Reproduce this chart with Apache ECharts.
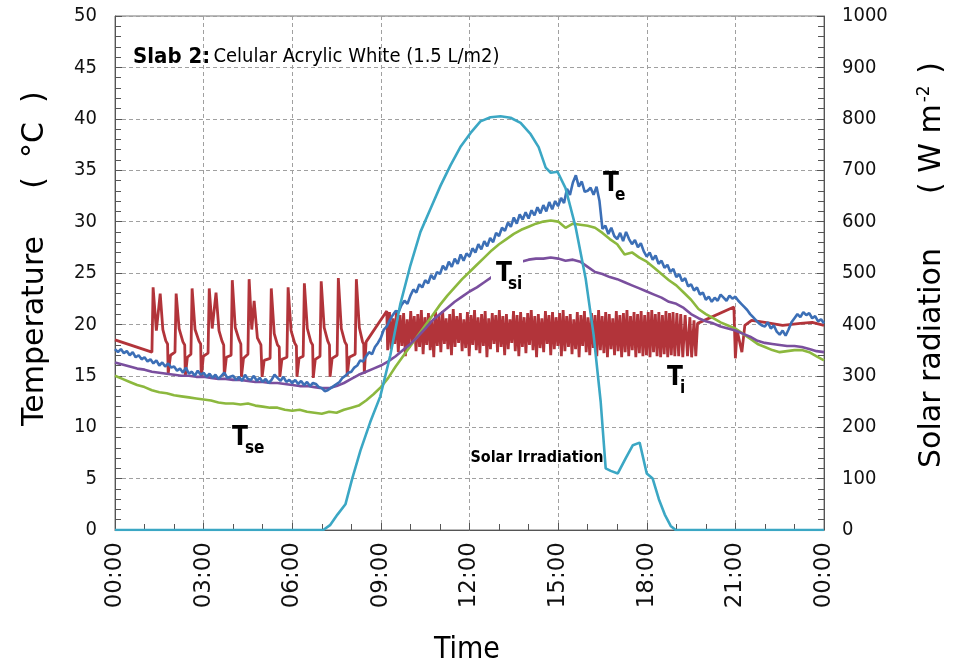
<!DOCTYPE html>
<html>
<head>
<meta charset="utf-8">
<script src="https://cdn.jsdelivr.net/npm/echarts@6/dist/echarts.min.js"></script>
<style>
html, body { margin: 0; padding: 0; background: #fff; }
#chart { width: 955px; height: 668px; }
</style>
</head>
<body>
<div id="chart"></div>
<script>
var dom = document.getElementById("chart");
var myChart = echarts.init(dom);

var narrow = '"DejaVu Sans Condensed", "Liberation Sans Narrow", "DejaVu Sans", sans-serif';
var wide = '"DejaVu Sans", Verdana, sans-serif';

// hours of day on the x axis (3 h ticks)
var hourTicks = [0, 3, 6, 9, 12, 15, 18, 21, 24];

// Te (blue), logged every 0.1 h from 00:00 to 24:00
var blueStep = 0.1;
var blueTe = [
  17.6, 17.3, 17.6, 17.2, 17.4, 17.0, 17.3, 16.8, 17.0, 16.6,
  16.8, 16.4, 16.6, 16.2, 16.5, 16.0, 16.3, 15.9, 16.2, 15.8,
  15.9, 15.5, 15.7, 15.3, 15.8, 15.2, 15.4, 15.0, 15.5, 15.1,
  15.3, 14.9, 15.2, 14.8, 15.1, 14.7, 15.0, 15.3, 14.8, 14.9,
  15.0, 14.6, 14.9, 14.5, 15.1, 14.7, 14.6, 15.0, 14.5, 14.8,
  14.4, 14.7, 14.3, 14.6, 15.1, 14.8, 14.5, 14.9, 14.4, 14.6,
  14.3, 14.6, 14.2, 14.5, 14.1, 14.4, 14.0, 14.3, 14.2, 13.9,
  13.8, 13.5, 13.6, 13.8, 14.0, 14.2, 14.4, 14.8, 15.0, 15.3,
  15.4, 15.8, 16.0, 16.5, 16.4, 16.9, 17.3, 17.1, 17.8, 18.2,
  18.7, 19.5, 19.8, 20.4, 20.9, 21.3, 21.2, 21.9, 22.3, 22.0,
  22.8, 23.4, 23.1, 23.9, 23.6, 24.3, 24.0, 24.8, 24.4, 25.1,
  24.9, 25.7, 25.3, 26.1, 25.6, 26.4, 25.9, 26.8, 26.2, 26.9,
  26.6, 27.4, 27.0, 27.8, 27.3, 28.1, 27.6, 28.4, 28.0, 28.9,
  28.6, 29.4, 29.1, 29.9, 29.5, 30.4, 29.8, 30.7, 30.2, 30.9,
  30.3, 31.1, 30.6, 31.4, 30.8, 31.6, 31.0, 31.9, 31.2, 32.0,
  31.5, 32.3, 31.8, 33.2, 32.6, 33.8, 34.5, 33.4, 33.9, 32.9,
  33.0, 33.3, 32.6, 33.4, 32.0, 29.3, 29.6, 28.8, 29.4, 28.6,
  28.3, 28.9, 28.1, 29.0, 28.3, 27.8, 28.2, 27.5, 27.9, 27.1,
  26.6, 27.0, 26.3, 26.7, 25.9, 26.2, 25.5, 25.8, 25.1, 25.4,
  24.6, 24.9, 24.2, 24.5, 23.7, 23.9, 23.3, 23.6, 22.9, 23.1,
  22.4, 22.7, 22.2, 22.6, 22.3, 22.9, 22.6, 22.3, 22.8, 22.5,
  22.7, 22.3, 22.0, 21.7, 21.4, 21.0, 20.7, 20.4, 20.1, 19.9,
  19.8, 20.2, 19.6, 19.9, 19.3, 19.0, 19.4, 18.9, 19.5, 20.2,
  20.6, 21.0, 20.7, 21.2, 20.9, 21.1, 20.6, 20.8, 20.3, 20.5,
  20.1
];

// Tse (green) and Tsi (purple), logged every 0.25 h
var slowStep = 0.25;
var greenTse = [
  15.0, 14.7, 14.4, 14.1, 13.9, 13.6, 13.4, 13.3,
  13.1, 13.0, 12.9, 12.8, 12.7, 12.6, 12.4, 12.3,
  12.3, 12.2, 12.3, 12.1, 12.0, 11.9, 11.9, 11.7,
  11.6, 11.7, 11.5, 11.4, 11.3, 11.5, 11.4, 11.7,
  11.9, 12.1, 12.6, 13.2, 13.9, 14.8, 15.9, 16.9,
  17.9, 18.9, 19.9, 20.9, 21.9, 22.8, 23.6, 24.4,
  25.1, 25.8, 26.5, 27.2, 27.8, 28.3, 28.8, 29.2,
  29.5, 29.8, 30.0, 30.1, 30.0, 29.4, 29.8, 29.7,
  29.6, 29.4, 28.9, 28.3, 27.8, 26.8, 27.0, 26.5,
  26.1, 25.5, 24.9, 24.3, 23.8, 23.1, 22.4, 21.5,
  21.0, 20.6, 20.2, 19.9, 19.6, 19.1, 18.6, 18.1,
  17.8, 17.5, 17.3, 17.4, 17.5, 17.5, 17.3, 16.9,
  16.5
];
var purpleTsi = [
  16.3, 16.1, 15.9, 15.7, 15.6, 15.4, 15.3, 15.2,
  15.1, 15.0, 15.0, 14.9, 14.9, 14.8, 14.7, 14.7,
  14.6, 14.6, 14.5, 14.4, 14.4, 14.3, 14.3, 14.2,
  14.1, 14.0, 14.0, 13.9, 13.8, 13.8, 14.0, 14.3,
  14.7, 15.1, 15.4, 15.7, 16.0, 16.4, 16.9, 17.5,
  18.1, 18.8, 19.6, 20.4, 21.0, 21.6, 22.2, 22.7,
  23.2, 23.6, 24.1, 24.6, 25.1, 25.5, 25.9, 26.1,
  26.3, 26.4, 26.4, 26.5, 26.4, 26.2, 26.3, 26.1,
  25.6, 25.1, 24.9, 24.6, 24.4, 24.1, 23.8, 23.5,
  23.2, 22.9, 22.6, 22.2, 22.0, 21.6, 21.0, 20.6,
  20.3, 20.1, 19.8, 19.6, 19.4, 19.1, 18.8, 18.4,
  18.2, 18.1, 18.0, 17.9, 17.9, 17.8, 17.6, 17.4,
  17.3
];

// Ti (red): night cycles as [hour, degC]
var redNight = [
  [0, 18.5], [1.25, 17.3],
  [1.29, 23.6], [1.40, 19.4], [1.53, 23.0], [1.62, 19.5], [1.72, 18.4], [1.78, 18.1], [1.80, 15.2], [1.88, 17.0], [2.03, 17.3],
  [2.07, 23.0], [2.17, 19.6], [2.30, 18.3], [2.36, 18.0], [2.38, 15.0], [2.45, 16.8], [2.57, 17.1],
  [2.61, 23.5], [2.71, 19.5], [2.84, 18.4], [2.90, 18.1], [2.92, 14.8], [2.99, 16.9], [3.15, 17.2],
  [3.19, 23.5], [3.29, 19.6], [3.42, 23.1], [3.52, 19.4], [3.62, 18.4], [3.68, 18.0], [3.70, 15.0], [3.77, 16.8], [3.93, 17.0],
  [3.97, 24.3], [4.07, 19.7], [4.20, 18.5], [4.26, 18.1], [4.28, 14.9], [4.35, 16.7], [4.50, 17.1],
  [4.54, 24.4], [4.63, 19.5], [4.71, 22.3], [4.82, 18.7], [4.94, 18.0], [4.98, 14.9], [5.05, 16.5], [5.25, 16.7],
  [5.29, 23.5], [5.39, 19.1], [5.50, 18.0], [5.56, 17.8], [5.58, 14.9], [5.65, 16.6], [5.82, 16.8],
  [5.86, 23.6], [5.96, 19.4], [6.08, 18.2], [6.14, 17.9], [6.16, 14.9], [6.23, 16.7], [6.37, 16.9],
  [6.41, 24.0], [6.51, 19.6], [6.63, 18.3], [6.69, 18.0], [6.71, 14.8], [6.78, 16.6], [6.94, 16.9],
  [6.98, 24.2], [7.08, 19.7], [7.20, 18.4], [7.26, 18.0], [7.28, 14.9], [7.35, 16.7], [7.52, 17.0],
  [7.56, 24.5], [7.66, 19.6], [7.78, 18.3], [7.84, 18.0], [7.86, 15.0], [7.93, 16.8], [8.13, 17.1],
  [8.17, 24.4], [8.27, 19.7], [8.38, 18.3], [8.42, 18.1], [8.44, 15.2], [8.50, 18.3], [9.20, 21.3],
  [9.23, 17.5]
];
// Ti (red): daytime fast cycling, peak and trough of each 0.12 h cycle
var redCycleStart = 9.29;
var redCycle = 0.12;
var redPeaks = [
  21.2, 20.6, 21.4, 20.9, 21.1, 20.5, 21.3, 20.8, 21.0, 21.4,
  20.7, 21.1, 20.4, 21.2, 20.9, 21.3, 20.6, 21.0, 21.5, 20.8,
  21.1, 20.5, 21.2, 20.9, 21.4, 20.7, 21.0, 21.3, 20.6, 21.1,
  20.9, 21.4, 20.8, 21.0, 20.5, 21.3, 20.9, 21.2, 20.7, 21.1,
  21.4, 20.8, 21.0, 20.6, 21.3, 20.9, 21.2, 20.7, 21.1, 21.4,
  20.8, 21.0, 20.5, 21.2, 20.9, 21.3, 20.7, 21.1, 20.9, 21.4,
  20.8, 21.2, 21.0, 20.6, 21.3, 20.9, 21.1, 21.4, 20.8, 21.2,
  21.0, 21.3, 20.9, 21.2, 21.4, 21.0, 21.2, 20.9, 21.3, 21.1,
  21.2
];
var redTroughs = [
  17.6, 18.1, 17.3, 17.9, 16.9, 17.7, 18.2, 17.4, 17.8, 17.1,
  18.0, 17.5, 16.8, 17.9, 17.3, 18.1, 17.6, 17.0, 17.8, 18.2,
  17.4, 17.7, 16.9, 18.0, 17.5, 17.2, 17.9, 16.8, 17.6, 18.1,
  17.3, 17.8, 17.0, 17.6, 18.2, 17.4, 16.9, 17.8, 17.2, 18.0,
  17.5, 16.8, 17.7, 17.3, 18.1, 17.0, 17.6, 17.9, 16.9, 17.4,
  17.8, 17.1, 17.6, 16.8, 17.9, 17.3, 17.0, 17.7, 16.9, 17.5,
  17.2, 16.8, 17.6, 17.0, 17.4, 16.8, 17.3, 16.9, 17.5, 16.8,
  17.2, 16.9, 17.0, 16.8, 17.3, 16.9, 16.8, 17.1, 16.8, 17.0,
  16.9
];
// Ti (red): evening as [hour, degC]
var redEvening = [
  [19.02, 21.1], [19.08, 16.9], [19.15, 21.0], [19.22, 16.8], [19.30, 20.9], [19.38, 16.9],
  [19.46, 20.7], [19.52, 16.8], [19.60, 20.4], [19.66, 16.9], [19.72, 20.1],
  [20.95, 21.7], [21.00, 16.7], [21.06, 19.4], [21.22, 17.3], [21.32, 19.9], [21.55, 20.4],
  [22.0, 20.2], [22.6, 19.9], [23.2, 20.1], [23.6, 20.2], [24.0, 19.9]
];

// Solar irradiation (W m-2) as [hour, value]
var solar = [
  [0, 0], [7.05, 0], [7.29, 10], [7.53, 30], [7.80, 50], [8.03, 100], [8.31, 155], [8.64, 210],
  [8.98, 260], [9.32, 340], [9.66, 440], [10.0, 515], [10.34, 580], [10.68, 625], [11.02, 670],
  [11.36, 710], [11.69, 745], [12.03, 772], [12.37, 795], [12.71, 803], [13.05, 805], [13.39, 802],
  [13.73, 792], [14.07, 770], [14.34, 745], [14.58, 705], [14.75, 695], [14.98, 697], [15.25, 665],
  [15.59, 590], [15.93, 490], [16.20, 380], [16.44, 250], [16.61, 120], [16.78, 115], [17.02, 110],
  [17.29, 140], [17.53, 165], [17.76, 170], [18.00, 110], [18.20, 100], [18.41, 60], [18.61, 30],
  [18.81, 8], [18.98, 0], [24, 0]
];

function onGrid(vals, step) {
  return vals.map(function (v, i) { return [+(i * step).toFixed(2), v]; });
}

var redData = redNight.slice();
redPeaks.forEach(function (p, i) {
  var t = redCycleStart + i * redCycle;
  redData.push([+t.toFixed(3), p]);
  redData.push([+(t + redCycle / 2).toFixed(3), redTroughs[i]]);
});
redData = redData.concat(redEvening);

function hourLabel(v) {
  var h = v % 24;
  return (h < 10 ? '0' : '') + h + ':00';
}

var lineBase = { type: 'line', showSymbol: false, symbol: 'none', animation: false };

option = {
  animation: false,
  backgroundColor: '#ffffff',
  grid: { left: 115, right: 131, top: 16, bottom: 138, show: true, borderColor: '#777', borderWidth: 1 },
  xAxis: {
    type: 'value', min: 0, max: 24, interval: 3,
    axisLine: { onZero: false, lineStyle: { color: '#555', width: 1 } },
    axisTick: { inside: true, length: 7, lineStyle: { color: '#555' } },
    minorTick: { show: true, splitNumber: 3, length: 6, lineStyle: { color: '#555' } },
    splitLine: { show: true, lineStyle: { color: '#a0a0a0', type: [4, 3], width: 1 } },
    axisLabel: {
      rotate: 90, margin: 12, fontSize: 23, color: '#111', fontFamily: wide,
      formatter: hourLabel, showMaxLabel: true, showMinLabel: true
    }
  },
  yAxis: [{
    type: 'value', min: 0, max: 50, interval: 5, position: 'left',
    axisLine: { show: true, lineStyle: { color: '#555' } },
    axisTick: { show: true, inside: true, length: 7, lineStyle: { color: '#555' } },
    minorTick: { show: true, splitNumber: 5, length: 6, lineStyle: { color: '#555' } },
    splitLine: { show: true, lineStyle: { color: '#a0a0a0', type: [4, 3], width: 1 } },
    axisLabel: { margin: 18, fontSize: 20, color: '#111', fontFamily: narrow }
  }, {
    type: 'value', min: 0, max: 1000, interval: 100, position: 'right',
    axisLine: { show: true, lineStyle: { color: '#555' } },
    axisTick: { show: true, inside: true, length: 7, lineStyle: { color: '#555' } },
    minorTick: { show: true, splitNumber: 5, length: 6, lineStyle: { color: '#555' } },
    splitLine: { show: false },
    axisLabel: { margin: 18, fontSize: 20, color: '#111', fontFamily: narrow, formatter: function (v) { return String(v); } }
  }],
  series: [
    Object.assign({}, lineBase, { name: 'Ti', data: redData, lineStyle: { color: '#b2343a', width: 2.8 }, itemStyle: { color: '#b2343a' }, z: 2 }),
    Object.assign({}, lineBase, { name: 'Tse', data: onGrid(greenTse, slowStep), lineStyle: { color: '#8cb83e', width: 2.6 }, itemStyle: { color: '#8cb83e' }, z: 3 }),
    Object.assign({}, lineBase, { name: 'Tsi', data: onGrid(purpleTsi, slowStep), lineStyle: { color: '#7a4f9e', width: 2.6 }, itemStyle: { color: '#7a4f9e' }, z: 4 }),
    Object.assign({}, lineBase, { name: 'Te', data: onGrid(blueTe, blueStep), lineStyle: { color: '#3c6fb6', width: 2.6 }, itemStyle: { color: '#3c6fb6' }, z: 5 }),
    Object.assign({}, lineBase, { name: 'Solar Irradiation', yAxisIndex: 1, data: solar, lineStyle: { color: '#3ba7c4', width: 2.6 }, itemStyle: { color: '#3ba7c4' }, z: 6 })
  ],
  graphic: [
    { type: 'text', x: 133, y: 57, z: 100, style: {
      text: '{b|Slab 2:} {n|Celular Acrylic White (1.5 L/m2)}', verticalAlign: 'middle',
      rich: {
        b: { fontSize: 22, fontWeight: 'bold', fontFamily: narrow, fill: '#000' },
        n: { fontSize: 20, fontFamily: narrow, fill: '#000' }
      }
    } },
    // series labels
    { type: 'text', x: 603, y: 184, z: 100, style: { text: 'T', fontSize: 26, fontWeight: 'bold', fontFamily: narrow, fill: '#000', verticalAlign: 'middle' } },
    { type: 'text', x: 615, y: 196, z: 100, style: { text: 'e', fontSize: 17, fontWeight: 'bold', fontFamily: narrow, fill: '#000', verticalAlign: 'middle' } },
    { type: 'rect', z: 99, shape: { x: 491, y: 257, width: 32, height: 35 }, style: { fill: '#fff' } },
    { type: 'text', x: 496, y: 274, z: 100, style: { text: 'T', fontSize: 26, fontWeight: 'bold', fontFamily: narrow, fill: '#000', verticalAlign: 'middle' } },
    { type: 'text', x: 508, y: 285, z: 100, style: { text: 'si', fontSize: 17, fontWeight: 'bold', fontFamily: narrow, fill: '#000', verticalAlign: 'middle' } },
    { type: 'text', x: 667, y: 378, z: 100, style: { text: 'T', fontSize: 26, fontWeight: 'bold', fontFamily: narrow, fill: '#000', verticalAlign: 'middle' } },
    { type: 'text', x: 680, y: 389, z: 100, style: { text: 'i', fontSize: 17, fontWeight: 'bold', fontFamily: narrow, fill: '#000', verticalAlign: 'middle' } },
    { type: 'text', x: 232, y: 438, z: 100, style: { text: 'T', fontSize: 26, fontWeight: 'bold', fontFamily: narrow, fill: '#000', verticalAlign: 'middle' } },
    { type: 'text', x: 245, y: 449, z: 100, style: { text: 'se', fontSize: 17, fontWeight: 'bold', fontFamily: narrow, fill: '#000', verticalAlign: 'middle' } },
    { type: 'text', x: 537, y: 458, z: 100, style: { text: 'Solar Irradiation', fontSize: 16, fontWeight: 'bold', fontFamily: narrow, fill: '#000', align: 'center', verticalAlign: 'middle' } },
    // axis titles
    { type: 'text', x: 35, y: 331, rotation: Math.PI / 2, z: 100, style: { text: 'Temperature', fontSize: 30, fontFamily: wide, fill: '#000', align: 'center', verticalAlign: 'middle' } },
    { type: 'text', x: 35, y: 140, rotation: Math.PI / 2, z: 100, style: { text: '(  \u00b0C  )', fontSize: 30, fontFamily: wide, fill: '#000', align: 'center', verticalAlign: 'middle' } },
    { type: 'text', x: 932, y: 358, rotation: Math.PI / 2, z: 100, style: { text: 'Solar radiation', fontSize: 30, fontFamily: wide, fill: '#000', align: 'center', verticalAlign: 'middle' } },
    { type: 'text', x: 932, y: 128, rotation: Math.PI / 2, z: 100, style: {
      text: '{a|( W m}{s|-2}{a| )}', align: 'center', verticalAlign: 'middle',
      rich: {
        a: { fontSize: 30, fontFamily: wide, fill: '#000' },
        s: { fontSize: 17, fontFamily: wide, fill: '#000', verticalAlign: 'top', padding: [0, 2, 14, 2] }
      }
    } },
    { type: 'text', x: 467, y: 650, z: 100, style: { text: 'Time', fontSize: 30, fontFamily: narrow, fill: '#000', align: 'center', verticalAlign: 'middle' } }
  ]
};

if (option && typeof option === "object") {
    myChart.setOption(option, true);
}
</script>
</body>
</html>
